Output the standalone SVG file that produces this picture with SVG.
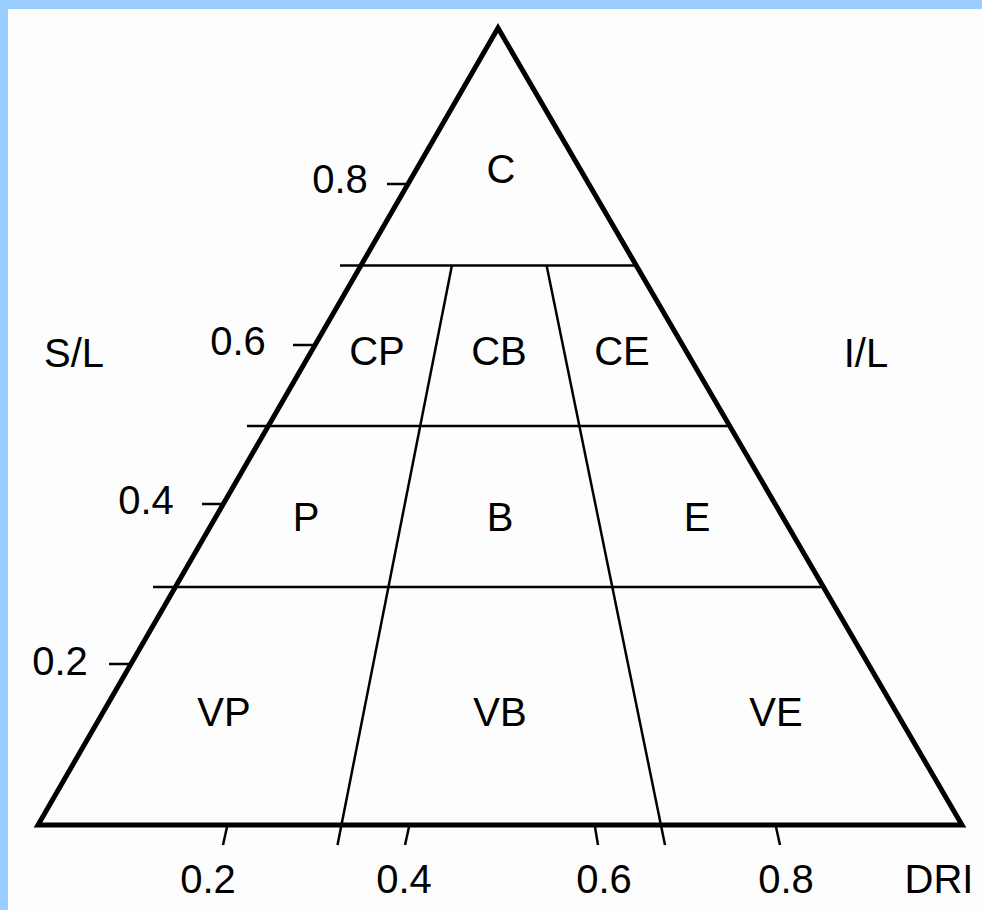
<svg xmlns="http://www.w3.org/2000/svg" width="982" height="910" viewBox="0 0 982 910">
<style>
text{font-family:"Liberation Sans",Arial,sans-serif;font-size:40px;fill:#000;text-anchor:middle}
.frame{fill:none;stroke:#000;stroke-width:5;stroke-linejoin:miter;stroke-miterlimit:10}
.ln{stroke:#000;stroke-width:2.5;fill:none}
.tk{stroke:#000;stroke-width:2.5;fill:none}
</style>
<rect x="0" y="0" width="982" height="910" fill="#99ccff"/>
<rect x="8" y="9" width="974" height="901" fill="#fcfdfc"/>
<g id="connectors">
<polygon class="frame" points="498,28 38,825 962,825"/>
<line class="ln" x1="340" y1="265.5" x2="635" y2="265.5"/>
<line class="ln" x1="247" y1="426" x2="729" y2="426"/>
<line class="ln" x1="153" y1="587" x2="823" y2="587"/>
<line class="ln" x1="452" y1="265" x2="337.5" y2="845"/>
<line class="ln" x1="546.5" y1="265" x2="665" y2="845"/>
<line class="tk" x1="387" y1="184" x2="407" y2="184"/>
<line class="tk" x1="293" y1="345" x2="314" y2="345"/>
<line class="tk" x1="202" y1="504" x2="222" y2="504"/>
<line class="tk" x1="109" y1="664" x2="129" y2="664"/>
<line class="tk" x1="227" y1="827" x2="223" y2="845"/>
<line class="tk" x1="409" y1="827" x2="405" y2="845"/>
<line class="tk" x1="595" y1="827" x2="598" y2="845"/>
<line class="tk" x1="776" y1="827" x2="780" y2="845"/>
</g>
<g id="axis-labels">
<text x="340" y="193">0.8</text>
<text x="238" y="355">0.6</text>
<text x="146" y="514">0.4</text>
<text x="60" y="675">0.2</text>
<text x="208" y="893">0.2</text>
<text x="404" y="893">0.4</text>
<text x="604" y="893">0.6</text>
<text x="786" y="893">0.8</text>
<text x="939" y="893">DRI</text>
<text x="74" y="367">S/L</text>
<text x="866" y="367">I/L</text>
</g>
<g id="node-C"><text x="501" y="183">C</text></g>
<g id="node-CP"><text x="377" y="365">CP</text></g>
<g id="node-CB"><text x="499" y="365">CB</text></g>
<g id="node-CE"><text x="622" y="365">CE</text></g>
<g id="node-P"><text x="306" y="531">P</text></g>
<g id="node-B"><text x="500" y="531">B</text></g>
<g id="node-E"><text x="697" y="531">E</text></g>
<g id="node-VP"><text x="224" y="726">VP</text></g>
<g id="node-VB"><text x="500" y="726">VB</text></g>
<g id="node-VE"><text x="776" y="726">VE</text></g>
</svg>
